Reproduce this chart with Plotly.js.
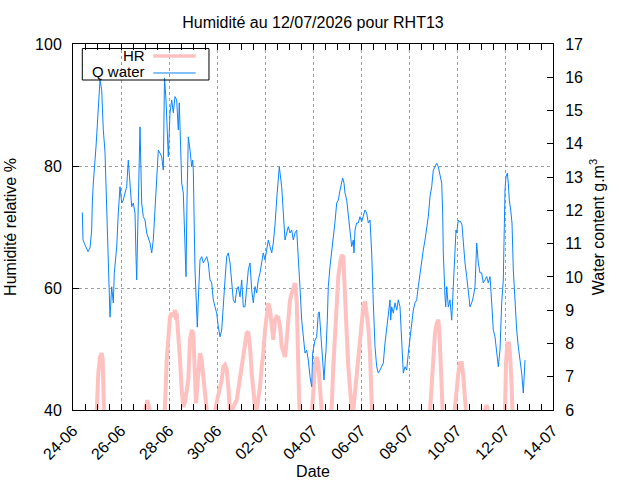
<!DOCTYPE html>
<html>
<head>
<meta charset="utf-8">
<script src="https://cdn.plot.ly/plotly-3.0.1.min.js"></script>
<style>html,body{margin:0;padding:0;background:#fff;}#chart{width:640px;height:480px;}</style>
</head>
<body>
<div id="chart"></div>
<script>
// ---- Data ----
// time origin of the series: 24-06-2026 00:00, offsets in hours
const startDay = [2026, 6, 24];
const titleText = 'Humidité au 12/07/2026 pour RHT13';
const seriesNames = ['HR', 'Q water'];
const seriesColors = ['#ffc0c0', '#0a84ff'];

// Relative humidity (%), left axis
const hoursHR = [9,22,23.7,25.3,27,28.7,29.7,31,40,60,72,74.3,77,85,91,92,93.7,95.3,97,98.7,100.3,102,103,103.7,105.3,107,108.7,110.3,112,115.3,117,118.7,120.3,121.3,123,124.3,125.3,127,128.7,130.3,132,133.7,138,142,143.7,148.7,150.3,152,153.7,155.3,157,158.5,160.3,163.7,167,168.7,170.3,172,173.7,175.3,177,178.7,180.3,182,183.7,185.3,187,188.7,190.3,192,193.7,195.3,197,198.7,200.3,202,203.7,205.3,207,208.7,210.3,212,213.7,215.3,217,218.7,220.3,222,223.7,225.3,226.3,227.5,232,239,240.3,242,243.7,245.3,247,248.7,254,258.7,260.3,262,263.7,265.3,267,268.7,270.3,272,273.7,275.3,277,278.7,280,282,283.7,285.3,287,288.7,290.3,292,293.7,295.3,297,298,299,320,356,357,358.7,360.3,362,363.7,365.3,366.3,367,368.7,369.7,375,381,382,383.7,385.3,387,388.7,390.3,392,393,400,411,412,413.7,415,425,431,432,433,434.3,436,437,438.7,439.5,452];
const valuesHR = [35,37,39.7,46.0,48.7,49.3,48.2,39.7,33,30,39.8,41.6,39.8,35,38,40.5,48.2,52.0,55.3,55.9,55.3,56.4,54.8,55.9,52.6,48.2,43.3,40.5,41.3,44.9,51.5,53.1,52.6,48.2,41.1,43.8,46.6,49.3,48.2,45.5,42.7,40.0,36,39.8,41.3,44.9,47.1,47.4,46.6,43.8,39.7,39.6,40.5,41.6,44.9,47.1,48.2,50.4,52.6,52.8,50.4,46.0,42.7,40.5,40.0,41.6,43.8,47.1,49.3,53.1,55.3,57.5,56.4,53.1,51.5,54.8,55.3,55.1,53.7,50.4,49.3,48.7,51.5,54.8,58.0,59.1,60.2,60.8,58.0,47.7,40.5,39.7,36,39.8,43.8,47.1,48.7,47.7,43.8,39.7,36,40.5,47.1,53.1,58.6,61.9,64.0,65.4,65.1,60.2,52.6,47.1,42.2,40.0,39.5,42.7,46.0,47.7,51.5,53.7,56.9,57.8,55.9,53.7,49.3,42.7,39.7,34,38,39.7,44.9,49.3,52.6,54.2,54.8,53.1,50.4,44.9,39.7,36,38,40.5,43.8,46.0,47.7,47.7,45.5,41.6,39.7,36,39,40.0,40.8,39.8,36,38,39.7,47.7,50.9,50.9,49.3,43.8,39.7,34];

// Water content (g.m-3), right axis
const hoursQ = [9.3,10,12,15,17,18.7,19.3,20.3,23,25.3,27,28.7,30.3,32,33.7,34.3,36.3,37,38.7,40.3,41.3,43.7,45.3,46.3,47,48.7,50.3,52,53.7,55.3,57,58.7,60.3,62,63,63.7,64.5,66.3,67,68.7,70.3,72,73.7,77,78.7,80.3,83.7,85.3,87,88.7,90.3,91.5,93,94.3,95.3,97,98.7,100.3,102,103.7,105.3,106.3,108.7,110.3,112,113,114,115.3,117,118.7,119.7,120.3,122,123.7,124.3,125.3,127,128.7,130.3,132,133.7,135.3,137,138.7,140.3,142,143.7,145.3,147,148.7,150.3,152,153.7,155.3,157,158.7,160.3,162,163.7,165.3,167,168.7,170.3,172,173.7,175.3,177,178.7,180.3,182,183.7,185.3,187,188.7,190.3,192,193.7,195.3,197,198.7,200.3,202,204,206.3,208.7,210.3,212,213.7,215.3,217,218.7,220.3,222,223.7,225.3,227,228.7,230.3,232,233.7,235.3,237,238.7,239.7,241,242,243.7,245.3,246.3,247.7,248.7,249.7,251,252,253,254.3,255.3,257,258.7,260.3,262,263.7,265.3,267,268.7,269.7,271,272,273.7,275.3,277,278.7,280.3,281,282,283.7,285.3,287,288.7,290.3,292,293.7,295.3,297,298.7,300.3,302,303.7,305.3,307,308.7,310.3,312,313.7,315.3,317,317.7,318.7,320.3,322,323.7,325.3,327,328.7,330.3,332,333.7,335.3,337,338.7,340.3,342,343.7,345.3,347,348.7,350.3,352,353.7,355.3,357,358.7,360.3,362,363.7,365.3,367,368.7,369.7,370.3,372,372.7,373.7,375.3,377,378.7,380.3,382,383,383.7,385.3,386.3,387.7,389,390.3,392,393.7,395.3,397,398.7,400.3,402,403.7,405.3,407,408.7,410.3,412,413.7,415.3,417,418.7,420.3,422,423.7,425.3,427,428.7,430.3,431.3,432,433,434.3,435.3,436.3,437.7,439,440.3,442,443.7,445.3,447,448.7,450.3,451,452];
const valuesQ = [11.94,11.11,10.96,10.76,10.87,11.41,12.22,12.82,13.91,15.12,15.92,15.62,14.42,13.75,12.01,11.32,10.0,8.79,9.70,9.22,10.12,10.90,11.92,12.70,12.71,12.22,12.31,12.52,12.71,13.51,12.91,12.11,12.22,11.92,10.61,9.91,11.11,14.42,14.51,12.22,11.81,11.71,11.32,11.02,10.72,11.11,13.21,13.81,13.72,13.61,13.21,15.98,15.32,14.42,13.61,14.93,15.32,14.93,15.42,15.32,14.42,15.23,12.82,12.52,10.72,10.01,12.31,14.21,13.81,13.31,13.51,13.21,10.21,8.70,8.49,9.31,10.51,10.61,10.42,10.51,10.61,10.42,9.91,9.82,9.31,9.10,8.91,8.50,8.20,8.40,9.00,9.91,10.61,10.72,10.42,9.71,9.31,9.22,9.61,9.71,9.40,9.91,9.10,9.10,9.71,10.21,10.42,9.61,9.22,9.71,9.52,9.91,10.12,10.42,10.72,10.51,10.91,11.11,10.91,10.72,11.02,11.56,12.46,13.31,12.71,11.81,11.11,11.32,11.51,11.32,11.41,11.11,11.32,11.41,10.72,9.67,8.70,8.20,7.71,7.80,7.50,7.00,6.70,7.71,8.01,8.10,8.20,8.91,8.95,8.40,7.90,7.50,6.90,7.41,7.80,8.70,9.71,10.31,10.72,11.11,11.65,12.22,12.31,12.61,12.91,12.97,12.82,12.52,12.31,11.81,11.32,10.91,11.11,10.72,11.41,11.62,11.62,11.81,11.66,11.81,12.01,11.92,11.62,11.71,10.72,9.22,7.90,7.30,7.11,7.20,7.30,7.41,8.01,8.40,8.91,9.31,8.70,9.10,8.91,9.22,9.00,9.31,9.10,7.90,7.11,7.30,7.20,7.71,8.20,8.70,9.00,9.22,9.31,9.71,10.12,10.51,10.81,11.11,11.41,11.81,12.41,12.71,13.21,13.31,13.41,13.31,13.01,12.82,11.92,10.72,9.40,9.10,9.71,9.10,9.31,8.70,9.71,11.11,11.41,11.32,11.71,11.66,11.66,11.56,11.02,10.42,10.01,9.52,9.10,9.22,9.40,9.71,11.02,10.42,10.12,10.12,9.82,9.91,10.01,9.82,10.01,9.22,8.40,8.20,7.71,7.30,7.80,9.22,9.91,11.71,12.61,13.01,13.12,12.82,12.31,12.01,11.62,10.21,9.22,8.40,7.90,7.50,7.11,6.51,7.11,7.50];

// axis ranges / ticks
const xRange = ['2026-06-24 00:00', '2026-07-14 00:00'];
const hrRange = [40, 100];
const qRange = [6, 17];

// ---- build ----
const t0 = Date.UTC(startDay[0], startDay[1] - 1, startDay[2]);
function toDate(h) {
  return new Date(t0 + h * 3600000).toISOString().slice(0, 19).replace('T', ' ');
}
const DAY = 86400000;

const traces = [
  {
    x: hoursHR.map(toDate), y: valuesHR, name: seriesNames[0],
    type: 'scatter', mode: 'lines', yaxis: 'y', showlegend: false,
    line: {color: seriesColors[0], width: 4}
  },
  {
    x: hoursQ.map(toDate), y: valuesQ, name: seriesNames[1],
    type: 'scatter', mode: 'lines', yaxis: 'y2', showlegend: false,
    line: {color: seriesColors[1], width: 1}
  }
];

// gnuplot-style key (text right-aligned, sample line on its right), in plot-area paper coords
const key = {x0: 0.0194, x1: 0.2833, y0: 0.9016, y1: 0.9877,
             textRight: 0.1515, lineX0: 0.1673, lineX1: 0.2556,
             rowsText: [0.9699, 0.9235], rowsLine: [0.9672, 0.9208], lineW: [3.5, 1]};
const shapes = [
  {type: 'rect', xref: 'paper', yref: 'paper', x0: key.x0, x1: key.x1, y0: key.y0, y1: key.y1,
   line: {color: '#000', width: 1}, fillcolor: 'rgba(0,0,0,0)', layer: 'above'}
];
const annotations = [];
seriesNames.forEach((nm, i) => {
  shapes.push({type: 'line', xref: 'paper', yref: 'paper', x0: key.lineX0, x1: key.lineX1,
               y0: key.rowsLine[i], y1: key.rowsLine[i],
               line: {color: seriesColors[i], width: key.lineW[i]}, layer: 'above'});
  annotations.push({xref: 'paper', yref: 'paper', x: key.textRight, y: key.rowsText[i],
                    xanchor: 'right', yanchor: 'middle', text: nm, showarrow: false,
                    borderpad: 0, font: {size: 15, color: '#000'}});
});

const gridCol = '#a0a0a0';
const layout = {
  width: 640, height: 480,
  margin: {l: 73, r: 87, t: 44, b: 70, pad: 0},
  paper_bgcolor: '#ffffff', plot_bgcolor: '#ffffff',
  font: {family: '"Liberation Sans", Arial, sans-serif', size: 16, color: '#000'},
  title: {text: titleText, x: 313/640, xref: 'container', xanchor: 'center',
          y: 1 - 22/480, yref: 'container', yanchor: 'middle',
          font: {size: 16, color: '#000'}},
  showlegend: false,
  shapes: shapes,
  annotations: annotations,
  xaxis: {
    type: 'date', range: xRange, tick0: xRange[0], dtick: 2 * DAY,
    tickformat: '%d-%m', tickangle: -45,
    ticks: 'inside', ticklen: 6, tickcolor: '#000', ticklabelstandoff: 4,
    showline: true, linecolor: '#000', linewidth: 1, mirror: 'allticks',
    showgrid: true, gridcolor: gridCol, griddash: 'dot', gridwidth: 1,
    zeroline: false,
    minor: {dtick: DAY / 2, ticks: 'inside', ticklen: 3, tickcolor: '#000', showgrid: false},
    title: {text: 'Date', standoff: 2, font: {size: 16}}
  },
  yaxis: {
    range: hrRange, tick0: 40, dtick: 20,
    ticks: 'inside', ticklen: 6, tickcolor: '#000', ticklabelstandoff: 7,
    showline: true, linecolor: '#000', linewidth: 1, mirror: false,
    showgrid: true, gridcolor: gridCol, griddash: 'dot', gridwidth: 1,
    zeroline: false,
    title: {text: 'Humidité relative %', standoff: 14, font: {size: 16}}
  },
  yaxis2: {
    overlaying: 'y', side: 'right', range: qRange, tick0: 6, dtick: 1,
    ticks: 'inside', ticklen: 6, tickcolor: '#000', ticklabelstandoff: 8,
    showline: true, linecolor: '#000', linewidth: 1,
    showgrid: false, zeroline: false,
    title: {text: 'Water content g.m<sup>3</sup>', standoff: 10, font: {size: 16}}
  }
};

Plotly.newPlot('chart', traces, layout, {displayModeBar: false, staticPlot: true});
</script>
</body>
</html>
